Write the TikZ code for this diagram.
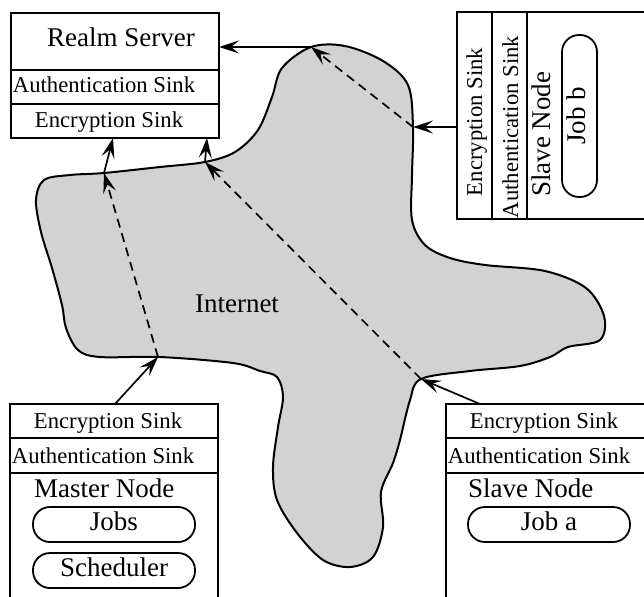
\documentclass[tikz,border=0pt]{standalone}
\usepackage{fontspec}
\setmainfont{Liberation Serif}
\usetikzlibrary{arrows.meta}
\definecolor{netgray}{RGB}{210,210,210}
\begin{document}
\begin{tikzpicture}[x=1pt,y=-1pt,
  boxframe/.style={draw=black,line width=2pt,inner sep=0pt,outer sep=0pt},
  boxline/.style={draw=black,line width=2pt},
  lblsmall/.style={font=\fontsize{22.7}{26}\selectfont,inner sep=0pt},
  lblbig/.style={font=\fontsize{27}{30}\selectfont,inner sep=0pt},
  pill/.style={draw=black,line width=1.8pt,rounded corners=17pt,
    minimum width=162pt,minimum height=35pt,inner sep=0pt,
    text height=17pt,text depth=5pt,font=\fontsize{27}{30}\selectfont},
  conn/.style={line width=1.7pt,-{Stealth[length=20pt,width=13pt,inset=8pt]}},
  dconn/.style={conn,dash pattern=on 9pt off 6pt}]
\useasboundingbox (0,0) rectangle (644,596);
\clip (0,0) rectangle (644,596);

% the Internet cloud
\path[draw=black,line width=2pt,fill=netgray]
  plot[smooth cycle,tension=0.55] coordinates {
  (36,200) (44,180) (70,175) (104,173) (160,167) (205,162) (235,152)
  (258,130) (272,97) (282,68) (311,47) (345,46) (383,61) (408,85)
  (413,127) (412,175) (412,220) (425,245) (450,258) (485,265) (545,271)
  (586,288) (604,316) (600,340) (568,347) (550,357) (520,366) (470,371)
  (421,379) (410,400) (400,440) (393,463) (381,492) (383,527) (373,557)
  (350,567) (323,560) (297,533) (277,500) (273,467) (278,427) (283,397)
  (277,377) (260,371) (233,363) (160,357) (100,357) (78,350) (66,328)
  (62,305) (52,268) (41,232)};
\node[lblbig,anchor=base] (net) at (237,312) {Internet};

% realm server
\node[boxframe,anchor=north west,minimum width=208pt,minimum height=125pt] (realm) at (11,13) {};
\draw[boxline] (11,70) -- (219,70);
\draw[boxline] (11,104) -- (219,104);
\node[lblbig,anchor=base] (rname) at (121,47) {Realm Server};
\node[lblsmall,anchor=base] (rauth) at (104,93) {Authentication Sink};
\node[lblsmall,anchor=base] (renc) at (109,128) {Encryption Sink};

% master node
\node[boxframe,anchor=north west,minimum width=208pt,minimum height=240pt] (master) at (10,404) {};
\draw[boxline] (10,438) -- (218,438);
\draw[boxline] (10,473) -- (218,473);
\node[lblsmall,anchor=base] (menc) at (108,428) {Encryption Sink};
\node[lblsmall,anchor=base] (mauth) at (103,463) {Authentication Sink};
\node[lblbig,anchor=base west] (mname) at (34,497) {Master Node};
\node[pill] (mjobs) at (114,524.5) {Jobs};
\node[pill] (msched) at (114,570.5) {Scheduler};

% slave node a
\node[boxframe,anchor=north west,minimum width=208pt,minimum height=240pt] (slavea) at (446,404) {};
\draw[boxline] (446,438) -- (654,438);
\draw[boxline] (446,473) -- (654,473);
\node[lblsmall,anchor=base] (aenc) at (544,428) {Encryption Sink};
\node[lblsmall,anchor=base] (aauth) at (539,463) {Authentication Sink};
\node[lblbig,anchor=base west] (aname) at (468,497) {Slave Node};
\node[pill] (ajob) at (549,524.5) {Job a};

% slave node b, turned on its side
\node[boxframe,anchor=north west,minimum width=240pt,minimum height=207pt] (slaveb) at (457,12) {};
\draw[boxline] (492,12) -- (492,219);
\draw[boxline] (527,12) -- (527,219);
\node[lblsmall,anchor=base,rotate=90] (benc) at (482,122) {Encryption Sink};
\node[lblsmall,anchor=base,rotate=90] (bauth) at (518,127) {Authentication Sink};
\node[lblbig,anchor=base west,rotate=90] (bname) at (550,197) {Slave Node};
\node[pill,rotate=90] (bjob) at (579.5,116) {Job b};

% junctions on the cloud outline
\coordinate (j1) at (311,47);
\coordinate (j2) at (413,127);
\coordinate (j3) at (104,173);
\coordinate (j4) at (205,162);
\coordinate (j5) at (158,357);
\coordinate (j6) at (421,379);

% ends on the boxes
\coordinate (rin) at (219,47);
\coordinate (rin1) at (113,138);
\coordinate (rin2) at (207,138);
\coordinate (bout) at (457,127);
\coordinate (mout) at (115,404);
\coordinate (aout) at (480,404);

% slave b to the realm server
\draw[conn] (bout) -- (j2);
\draw[dconn] (j2) -- (j1);
\draw[conn] (j1) -- (rin);

% master to the realm server
\draw[conn] (mout) -- (j5);
\draw[dconn] (j5) -- (j3);
\draw[conn] (j3) -- (rin1);

% slave a to the realm server
\draw[conn] (aout) -- (j6);
\draw[dconn] (j6) -- (j4);
\draw[conn] (j4) -- (rin2);
\end{tikzpicture}
\end{document}
